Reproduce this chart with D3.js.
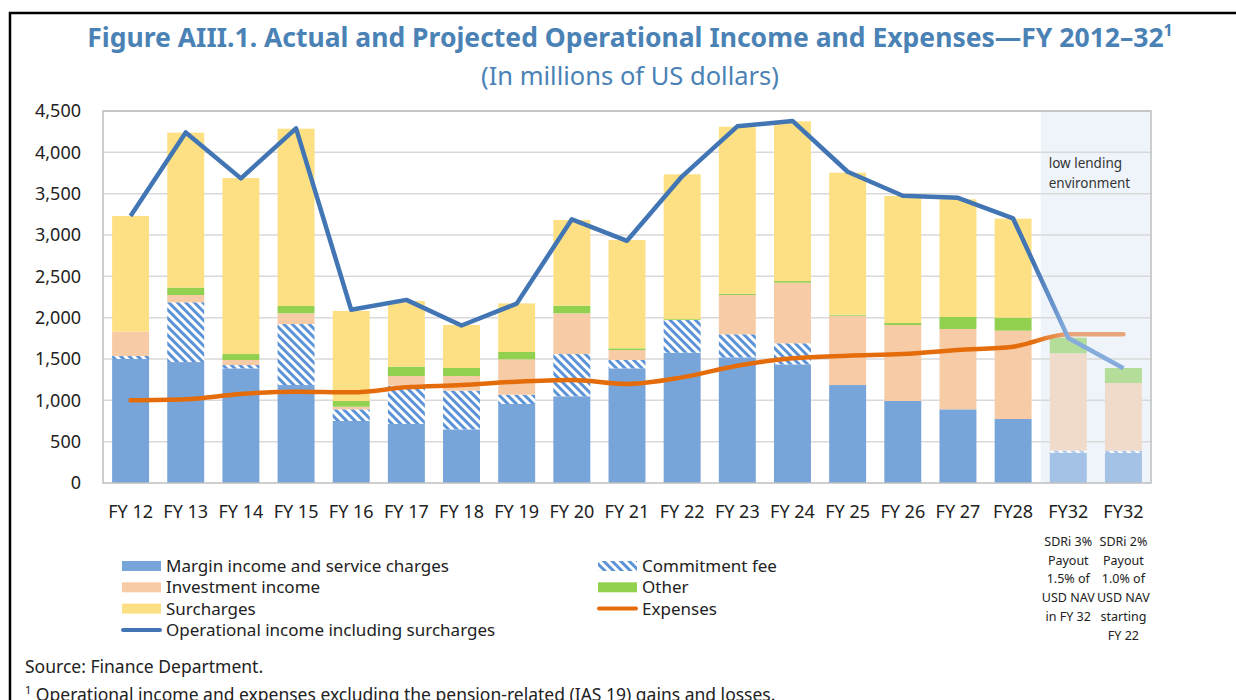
<!DOCTYPE html>
<html>
<head>
<meta charset="utf-8">
<script src="https://cdn.jsdelivr.net/npm/d3@7"></script>
<style>
  body { margin: 0; background: #fff; }
  text { font-family: "Noto Sans", "Open Sans", sans-serif; }
</style>
</head>
<body>
<div id="chart"></div>
<script>
// data (millions of US dollars)
var categories = ["FY 12", "FY 13", "FY 14", "FY 15", "FY 16", "FY 17", "FY 18", "FY 19", "FY 20", "FY 21",
                  "FY 22", "FY 23", "FY 24", "FY 25", "FY 26", "FY 27", "FY28", "FY32", "FY32"];
var marginIncome = [1500, 1463, 1387, 1185, 750, 714, 649, 956, 1049, 1387, 1576, 1520, 1435, 1185, 992, 891, 774, 367, 363];
var commitmentFee = [36, 723, 40, 738, 141, 463, 468, 112, 511, 101, 396, 279, 255, 0, 0, 0, 0, 24, 27];
var investmentIncome = [294, 88, 61, 130, 32, 117, 177, 428, 493, 121, 0, 475, 733, 839, 919, 972, 1069, 1178, 820];
var otherIncome = [0, 89, 72, 88, 69, 113, 97, 89, 92, 20, 10, 16, 20, 12, 24, 145, 157, 189, 181];
var surcharges = [1400, 1875, 2129, 2145, 1089, 795, 520, 588, 1036, 1310, 1752, 2020, 1932, 1718, 1537, 1424, 1198, 0, 0];
var operationalIncome = [3230, 4240, 3685, 4290, 2095, 2215, 1905, 2170, 3190, 2930, 3710, 4315, 4380, 3765, 3475, 3450, 3200, 1755, 1387];
var expenses = [1000, 1012, 1077, 1105, 1097, 1157, 1185, 1226, 1246, 1198, 1278, 1419, 1508, 1540, 1560, 1609, 1649, 1799, 1800];
var yTicks = [0, 500, 1000, 1500, 2000, 2500, 3000, 3500, 4000, 4500];
var scenarioNotes = [
  ["SDRi 3%", "Payout", "1.5% of", "USD NAV", "in FY 32"],
  ["SDRi 2%", "Payout", "1.0% of", "USD NAV", "starting", "FY 22"]
];
var firstProjected = 17;

var width = 1236, height = 700;
var plotLeft = 103, plotRight = 1151, plotTop = 111, plotBottom = 483;

var svg = d3.select("#chart")
            .append("svg")
            .attr("width", width).attr("height", height);

var defs = svg.append("defs");

function hatch(id, color) {
  var p = defs.append("pattern")
      .attr("id", id)
      .attr("patternUnits", "userSpaceOnUse")
      .attr("width", 6).attr("height", 6)
      .attr("patternTransform", "rotate(-45)");
  p.append("rect").attr("width", 6).attr("height", 6).attr("fill", "#fff");
  p.append("rect").attr("width", 3).attr("height", 6).attr("fill", color);
}
hatch("hatch", "#5b93d6");
hatch("hatchLight", "#a9c6ea");

var keys = ["margin", "commitment", "investment", "other", "surcharges"];
var colors = {
  margin: ["#77a4d9", "#a4c2e6"],
  commitment: ["url(#hatch)", "url(#hatchLight)"],
  investment: ["#f8cba7", "#f0dbcb"],
  other: ["#92d050", "#b3dd98"],
  surcharges: ["#fde084", "#fdecb5"]
};

var table = categories.map(function(c, i) {
  return {i: i, margin: marginIncome[i], commitment: commitmentFee[i], investment: investmentIncome[i],
          other: otherIncome[i], surcharges: surcharges[i]};
});

var x = d3.scaleBand().domain(d3.range(categories.length)).range([plotLeft, plotRight])
          .paddingInner(0.33).paddingOuter(0.165);
var y = d3.scaleLinear().domain([0, 4500]).range([plotBottom, plotTop]);
function cx(i) { return x(i) + x.bandwidth() / 2; }
var splitX = x(firstProjected) - x.step() * x.paddingInner() / 2;

// outer frame
svg.append("rect").attr("x", 10).attr("y", 13).attr("width", 1400).attr("height", 900)
   .attr("fill", "none").attr("stroke", "#000").attr("stroke-width", 2.5);

// title
svg.append("text").attr("x", 630).attr("y", 47).attr("text-anchor", "middle")
   .attr("font-size", 26.5).attr("font-weight", "bold").attr("fill", "#4a82b5")
   .text("Figure AIII.1. Actual and Projected Operational Income and Expenses\u2014FY 2012\u201332")
   .append("tspan").attr("font-size", 16).attr("dy", -11).text("1");
svg.append("text").attr("x", 630).attr("y", 85).attr("text-anchor", "middle")
   .attr("font-size", 25.5).attr("fill", "#4a82b5")
   .text("(In millions of US dollars)");

// shaded projection region
svg.append("rect")
   .attr("x", splitX).attr("y", plotTop)
   .attr("width", plotRight - splitX).attr("height", plotBottom - plotTop)
   .attr("fill", "#eff4fa");

// gridlines
svg.append("g").selectAll("line").data(yTicks.slice(1)).enter().append("line")
   .attr("x1", plotLeft).attr("x2", plotRight)
   .attr("y1", function(d) { return y(d); }).attr("y2", function(d) { return y(d); })
   .attr("stroke", "#d9d9d9").attr("stroke-width", 1.5);

svg.append("text").attr("y", 168)
   .attr("font-size", 13.5).attr("fill", "#333")
   .selectAll("tspan").data(["low lending", "environment"]).enter().append("tspan")
   .attr("x", splitX + 8).attr("dy", function(d, i) { return i ? 20 : 0; })
   .text(function(d) { return d; });

// bars
var stacked = d3.stack().keys(keys)(table);
svg.append("g").selectAll("g").data(stacked).enter().append("g")
   .selectAll("rect").data(function(s) { return s.map(function(d) { d.key = s.key; return d; }); })
   .enter().append("rect")
   .attr("x", function(d) { return x(d.data.i); })
   .attr("width", x.bandwidth())
   .attr("y", function(d) { return y(d[1]); })
   .attr("height", function(d) { return y(d[0]) - y(d[1]); })
   .attr("fill", function(d) { return colors[d.key][d.data.i >= firstProjected ? 1 : 0]; });

// plot frame
svg.append("rect").attr("x", plotLeft).attr("y", plotTop)
   .attr("width", plotRight - plotLeft).attr("height", plotBottom - plotTop)
   .attr("fill", "none").attr("stroke", "#bfbfbf").attr("stroke-width", 1.5);

// lines with fading projected segment
function fade(id, from, to) {
  var g = defs.append("linearGradient").attr("id", id).attr("gradientUnits", "userSpaceOnUse")
      .attr("x1", cx(firstProjected - 1)).attr("x2", cx(firstProjected)).attr("y1", 0).attr("y2", 0);
  g.append("stop").attr("offset", 0.35).attr("stop-color", from);
  g.append("stop").attr("offset", 1).attr("stop-color", to);
}
fade("fadeBlue", "#4275b4", "#86acdc");
fade("fadeOrange", "#e46c0a", "#e8a47a");

svg.append("path").datum(expenses)
   .attr("d", d3.line().x(function(d, i) { return cx(i); }).y(function(d) { return y(d); }).curve(d3.curveMonotoneX))
   .attr("fill", "none").attr("stroke", "url(#fadeOrange)").attr("stroke-width", 4.5).attr("stroke-linecap", "round");

svg.append("path").datum(operationalIncome)
   .attr("d", d3.line().x(function(d, i) { return cx(i); }).y(function(d) { return y(d); }))
   .attr("fill", "none").attr("stroke", "url(#fadeBlue)").attr("stroke-width", 4.5)
   .attr("stroke-linejoin", "round");

// axes
var yAxis = d3.axisLeft(y).tickValues(yTicks).tickFormat(d3.format(",")).tickSize(0).tickPadding(22);
svg.append("g").attr("transform", "translate(" + plotLeft + ",0)").call(yAxis)
   .call(function(g) { g.select(".domain").remove(); })
   .selectAll("text").attr("font-size", 18).attr("fill", "#222")
   .style("font-family", "'Noto Sans', sans-serif");

var xAxis = d3.axisBottom(x).tickFormat(function(i) { return categories[i]; }).tickSize(0).tickPadding(22);
svg.append("g").attr("transform", "translate(0," + plotBottom + ")").call(xAxis)
   .call(function(g) { g.select(".domain").remove(); })
   .selectAll("text").attr("font-size", 18).attr("fill", "#222")
   .style("font-family", "'Noto Sans', sans-serif");

// scenario notes under the FY32 labels
scenarioNotes.forEach(function(lines, k) {
  svg.append("g").selectAll("text").data(lines).enter().append("text")
     .attr("x", cx(firstProjected + k)).attr("y", function(d, j) { return 546 + j * 18.7; })
     .attr("text-anchor", "middle").attr("font-size", 12.5).attr("fill", "#222")
     .text(function(d) { return d; });
});

// legend
var legendItems = [
  {label: "Margin income and service charges", type: "rect", color: colors.margin[0], col: 0, row: 0},
  {label: "Investment income", type: "rect", color: colors.investment[0], col: 0, row: 1},
  {label: "Surcharges", type: "rect", color: colors.surcharges[0], col: 0, row: 2},
  {label: "Operational income including surcharges", type: "line", color: "#4275b4", col: 0, row: 3},
  {label: "Commitment fee", type: "rect", color: "url(#hatch)", col: 1, row: 0},
  {label: "Other", type: "rect", color: colors.other[0], col: 1, row: 1},
  {label: "Expenses", type: "line", color: "#e46c0a", col: 1, row: 2}
];
var legendX = [122, 598];
var legend = svg.append("g").selectAll("g").data(legendItems).enter().append("g")
   .attr("transform", function(d) { return "translate(" + legendX[d.col] + "," + (566 + d.row * 21.3) + ")"; });
legend.filter(function(d) { return d.type === "rect"; }).append("rect")
   .attr("x", 0).attr("y", -5).attr("width", 39).attr("height", 10)
   .attr("fill", function(d) { return d.color; });
legend.filter(function(d) { return d.type === "line"; }).append("line")
   .attr("x1", 1).attr("x2", 38).attr("y1", 0).attr("y2", 0)
   .attr("stroke", function(d) { return d.color; }).attr("stroke-width", 4).attr("stroke-linecap", "round");
legend.append("text").attr("x", 44).attr("y", 6).attr("font-size", 17).attr("fill", "#222")
   .text(function(d) { return d.label; });

// source and note
svg.append("text").attr("x", 25).attr("y", 673).attr("font-size", 17.5).attr("fill", "#222")
   .text("Source: Finance Department.");
var note = svg.append("text").attr("x", 25).attr("y", 701).attr("font-size", 17.5).attr("fill", "#222");
note.append("tspan").attr("font-size", 11).attr("dy", -7).text("1");
note.append("tspan").attr("dy", 7).text(" Operational income and expenses excluding the pension-related (IAS 19) gains and losses.");
</script>
</body>
</html>
